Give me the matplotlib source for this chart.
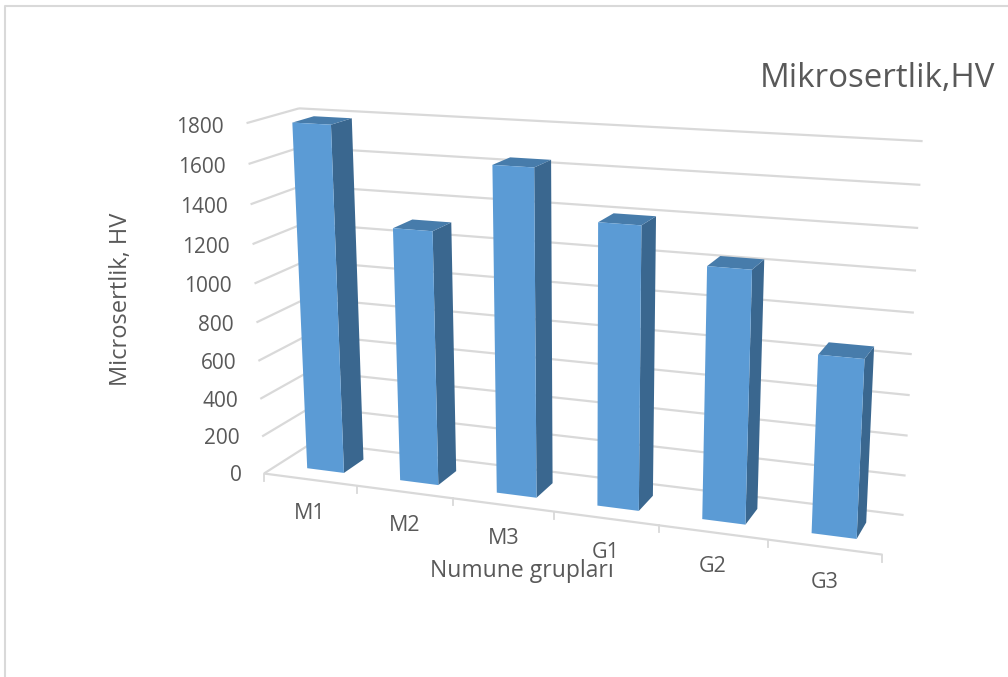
import numpy as np
import matplotlib
matplotlib.use("Agg")
import matplotlib.pyplot as plt
from matplotlib.patches import Polygon

plt.rcParams['font.family'] = ['Open Sans', 'DejaVu Sans']

# chart data
categories = ["M1", "M2", "M3", "G1", "G2", "G3"]
hardness = [1790, 1300, 1642, 1403, 1235, 865]
y_ticks = [0, 200, 400, 600, 800, 1000, 1200, 1400, 1600, 1800]

TEXT = "#595959"
GRID = "#D9D9D9"
FRONT = "#5B9BD5"
SIDE = "#3A678F"
TOP = "#477CAB"

# camera fit: (category pos, value, depth) -> pixel
world_pts = [(0, 0, 0), (1, 0, 0), (2, 0, 0), (3, 0, 0), (4, 0, 0), (5, 0, 0), (6, 0, 0),
             (0, 1800, 0), (0, 1200, 0), (0, 1800, 1), (0, 0, 1),
             (6, 0, 1), (6, 1800, 1), (6, 1000, 1)]
pixel_pts = [(265, 473), (357, 486), (454, 499), (554, 512), (658, 526), (768, 539), (883, 554),
             (246, 123), (252, 244), (300, 108.5), (312, 442),
             (904, 515), (922.7, 141), (913.5, 313)]


def fit_camera(world, pixel):
    rows = []
    rhs = []
    for (x, y, z), (u, v) in zip(world, pixel):
        rows.append([x, y, z, 1, 0, 0, 0, 0, -u*x, -u*y, -u*z])
        rhs.append(u)
        rows.append([0, 0, 0, 0, x, y, z, 1, -v*x, -v*y, -v*z])
        rhs.append(v)
    # scale value axis so the solve stays well conditioned
    a = np.array(rows, dtype=float)
    a[:, [1, 5, 9]] *= 1000.0
    p = np.linalg.lstsq(a, np.array(rhs, dtype=float), rcond=None)[0]
    p[[1, 5, 9]] *= 1000.0
    return np.append(p, 1.0).reshape(3, 4)


CAM = fit_camera(world_pts, pixel_pts)


def project(x, y, z):
    u, v, w = CAM @ np.array([x, y, z, 1.0])
    return u / w, v / w


def face(ax, pts, color, zorder):
    ax.add_patch(Polygon([project(*p) for p in pts], closed=True, fc=color, ec="none", zorder=zorder))


def line3(ax, a, b, lw=1.6, zorder=1):
    pa, pb = project(*a), project(*b)
    ax.plot([pa[0], pb[0]], [pa[1], pb[1]], color=GRID, lw=lw, zorder=zorder, solid_capstyle="butt")


fig = plt.figure(figsize=(10.08, 6.77), dpi=100)
ax = fig.add_axes([0, 0, 1, 1])
ax.set_xlim(0, 1008)
ax.set_ylim(677, 0)
ax.axis("off")

# outer frame of the chart area
ax.plot([5, 5, 1008], [677, 5.5, 5.5], color=GRID, lw=1.5)

n = len(categories)
for v in y_ticks:
    line3(ax, (0, v, 0), (0, v, 1))
    line3(ax, (0, v, 1), (n, v, 1))
    ax.text(242 - v / 100, project(0, v, 0)[1] + 2 + v / 900, str(v), ha="right", va="center", fontsize=15, color=TEXT)

# floor edge and ticks
line3(ax, (0, 0, 0), (n, 0, 0), lw=1.6, zorder=2)
for i in range(n + 1):
    p = project(i, 0, 0)
    ax.plot([p[0], p[0]], [p[1], p[1] + 7], color=GRID, lw=1.3, zorder=2)

# bars
x0, x1 = 0.32, 0.72
z0, z1 = 0.28, 0.70
for i, (name, val) in enumerate(zip(categories, hardness)):
    a, b = i + x0, i + x1
    face(ax, [(b, 0, z0), (b, 0, z1), (b, val, z1), (b, val, z0)], SIDE, 3 + i)
    face(ax, [(a, val, z0), (b, val, z0), (b, val, z1), (a, val, z1)], TOP, 3 + i)
    face(ax, [(a, 0, z0), (b, 0, z0), (b, val, z0), (a, val, z0)], FRONT, 3 + i)
    p = project(i + 0.5, 0, 0)
    ax.text(p[0], p[1] + (35 if i == n - 1 else 34), name, ha="center", va="center", fontsize=15.5, color=TEXT)

ax.text(995, 87, "Mikrosertlik,HV", ha="right", va="baseline", fontsize=23.8, color=TEXT)
ax.text(522, 577, "Numune grupları", ha="center", va="baseline", fontsize=16.5, color=TEXT)
ax.text(121, 299.5, "Microsertlik, HV", ha="center", va="center", rotation=90, fontsize=17, color=TEXT)

fig.savefig("out.png", dpi=100)
